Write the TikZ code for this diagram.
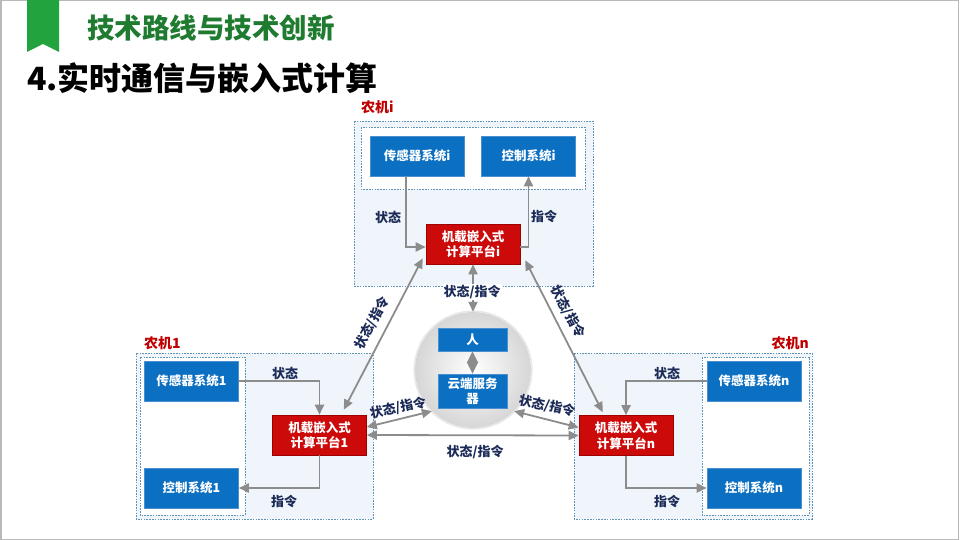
\documentclass[tikz,border=0pt]{standalone}
\usepackage{fontspec}
\setmainfont{Noto Sans CJK SC}
\usetikzlibrary{arrows.meta,calc}
\definecolor{boxblue}{HTML}{0B6FC2}
\definecolor{boxblueedge}{HTML}{4A8FD0}
\definecolor{boxred}{HTML}{CC0A0A}
\definecolor{boxrededge}{HTML}{9E0000}
\definecolor{arrgray}{HTML}{8C8C8C}
\definecolor{lblnavy}{HTML}{1B2A57}
\definecolor{farmred}{HTML}{C00000}
\definecolor{dashcol}{HTML}{5E93B5}
\definecolor{farmfill}{HTML}{EFF5FA}
\definecolor{titlegreen}{HTML}{1E7B30}
\definecolor{markgreen}{HTML}{22A33D}
\tikzset{
  bluebox/.style={draw=boxblueedge, line width=0.6pt, fill=boxblue, text=white,
    font=\bfseries\fontsize{12.5}{15}\selectfont, minimum width=94, minimum height=40,
    inner sep=0pt, align=center},
  redbox/.style={draw=boxrededge, line width=0.6pt, fill=boxred, text=white,
    font=\bfseries\fontsize{12.5}{15.5}\selectfont, minimum width=94, minimum height=40,
    inner sep=0pt, align=center},
  farmbox/.style={draw=dashcol, line width=0.8pt, dash pattern=on 1.6pt off 1.2pt, fill=farmfill},
  innerbox/.style={draw=dashcol, line width=0.8pt, dash pattern=on 1.6pt off 1.2pt, fill=white},
  arr/.style={draw=arrgray, line width=1.8pt, -{Triangle[length=10pt,width=9pt]}},
  darr/.style={draw=arrgray, line width=1.8pt, {Triangle[length=10pt,width=9pt]}-{Triangle[length=10pt,width=9pt]}},
  diamarr/.style={draw=arrgray, line width=1.8pt, {Triangle[length=11.5pt,width=11pt]}-{Triangle[length=11.5pt,width=11pt]}},
  lbl/.style={text=lblnavy, font=\bfseries\fontsize{13}{15}\selectfont, inner sep=1pt},
  farmlbl/.style={text=farmred, font=\bfseries\fontsize{14}{16}\selectfont, inner sep=0pt},
}
\begin{document}
\begin{tikzpicture}[x=1pt,y=-1pt]
\useasboundingbox (0,0) rectangle (960,540);
\fill[white] (0,0) rectangle (960,540);
\draw[gray!55, line width=1.5pt] (0.75,0.75) rectangle (958.25,539.25);
% header
\fill[markgreen] (27,0) -- (59,0) -- (59,52) -- (43,44) -- (27,52) -- cycle;
\node[anchor=west, text=titlegreen, font=\bfseries\fontsize{27.5}{30}\selectfont, inner sep=0pt] (title) at (87,28) {技术路线与技术创新};
\node[anchor=west, text=black, font=\bfseries\fontsize{32}{34}\selectfont, inner sep=0pt] (heading) at (27,78) {4.实时通信与嵌入式计算};
% farm frames
\draw[farmbox] (354,121) rectangle (593,286);
\draw[innerbox] (361,127) rectangle (585,189);
\draw[farmbox] (136,353) rectangle (373,519);
\draw[innerbox] (140,357) rectangle (245,515);
\draw[farmbox] (574,353) rectangle (812,519);
\draw[innerbox] (702,357) rectangle (809,515);
\node[farmlbl, anchor=west] (fli) at (361,107) {农机i};
\node[farmlbl, anchor=west] (fl1) at (144,343) {农机1};
\node[farmlbl, anchor=east] (fln) at (809,343) {农机n};
% cloud circle
\shade[inner color=white, outer color=gray!32] (473,370) circle (58);
\draw[gray!18, line width=1.5pt] (473,370) circle (58.8);
\node[circle, minimum size=116, inner sep=0pt] (cloud) at (473,370) {};
% nodes
\node[bluebox] (si) at (417,156) {传感器系统i};
\node[bluebox] (ci) at (528.5,156) {控制系统i};
\node[redbox] (ei) at (473,244) {机载嵌入式\\计算平台i};
\node[bluebox] (s1) at (191.5,381) {传感器系统1};
\node[bluebox] (c1) at (191.5,488) {控制系统1};
\node[redbox] (e1) at (319.5,435) {机载嵌入式\\计算平台1};
\node[bluebox] (sn) at (754,381) {传感器系统n};
\node[bluebox] (cn) at (754,488) {控制系统n};
\node[redbox] (en) at (626,435.5) {机载嵌入式\\计算平台n};
\node[bluebox, minimum width=69, minimum height=23] (ren) at (472.5,339.5) {人};
\node[bluebox, minimum width=69, minimum height=34, font=\bfseries\fontsize{12.5}{14.5}\selectfont] (yun) at (472.5,391) {云端服务\\器};
% farm internal arrows
\draw[arr] ($(si.south)+(-11,0)$) |- ($(ei.west)+(0,3)$);
\draw[arr] ($(ei.east)+(0,3)$) -| (ci.south);
\node[lbl] (lsi) at (388,217) {状态};
\node[lbl] (lci) at (544,217) {指令};
\draw[arr] (s1.east) -| (e1.north);
\draw[arr] (e1.south) |- (c1.east);
\node[lbl] (ls1) at (285,373) {状态};
\node[lbl] (lc1) at (284,502) {指令};
\draw[arr] (sn.west) -| (en.north);
\draw[arr] (en.south) |- (cn.west);
\node[lbl] (lsn) at (667,373) {状态};
\node[lbl] (lcn) at (667,502) {指令};
% communication arrows
\draw[diamarr] (ren.south) -- (yun.north);
\draw[darr] (ei.south) -- (cloud.north);
\node[lbl, fill=white] (lic) at (472,292) {状态/指令};
\draw[darr] ($(e1.north east)+(-23,-5)$) -- ($(ei.south west)+(-3,-6)$);
\node[lbl, rotate=62] (l1i) at (372,323) {状态/指令};
\draw[darr] ($(ei.south east)+(5,-4)$) -- ($(en.north west)+(24,-3)$);
\node[lbl, rotate=-62] (lin) at (568,312) {状态/指令};
\draw[darr] ($(e1.east)+(0,-8)$) -- (cloud.225);
\node[lbl, rotate=12] (l1c) at (398,408) {状态/指令};
\draw[darr] (cloud.-45) -- ($(en.west)+(0,-8)$);
\node[lbl, rotate=-12] (lnc) at (547,406) {状态/指令};
\draw[darr] (e1.east) -- (en.west);
\node[lbl] (l1n) at (475,452) {状态/指令};
\end{tikzpicture}
\end{document}
